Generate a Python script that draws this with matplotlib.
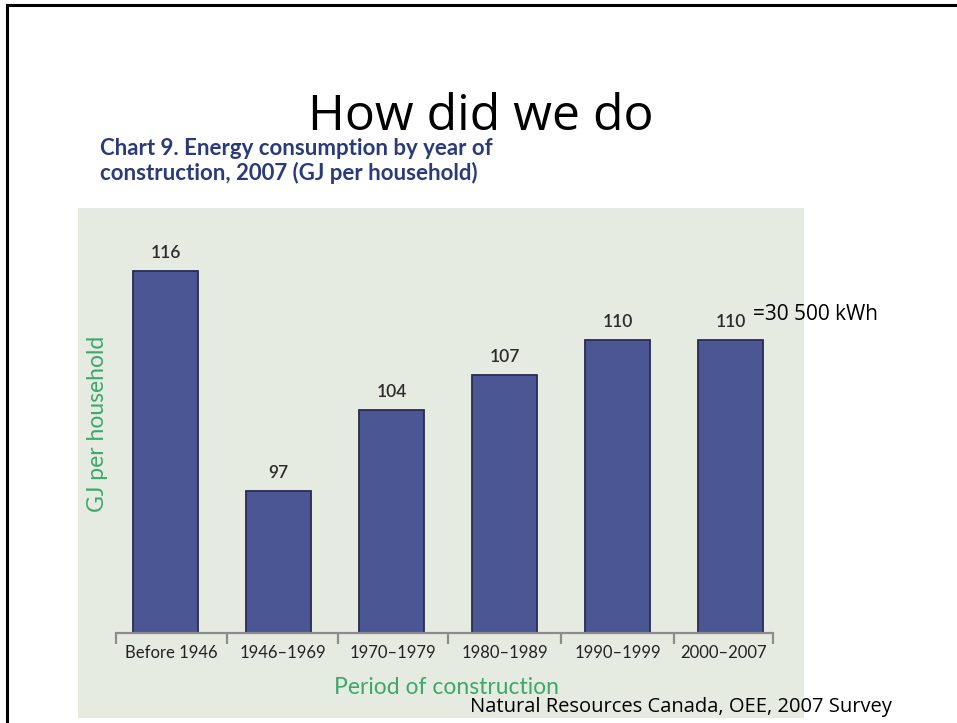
import matplotlib
matplotlib.use("Agg")
import matplotlib.pyplot as plt
from matplotlib.patches import Rectangle
from matplotlib.lines import Line2D

# energy use per household by construction period (GJ)
periods = ["Before 1946", "1946\u20131969", "1970\u20131979", "1980\u20131989", "1990\u20131999", "2000\u20132007"]
gj_per_household = [116, 97, 104, 107, 110, 110]

W, H = 957, 723
BAR_FILL = "#4b5694"
BAR_EDGE = "#272c52"
GREEN = "#3da86a"
NAVY = "#2a3b7c"
CHART_BG = "#e6ebe2"
CHART_FONT = "Lato"
SLIDE_FONT = "Open Sans"


def fx(px):
    return px / W


def fy(py):
    return 1 - py / H


fig = plt.figure(figsize=(W / 100, H / 100), dpi=100)
fig.patch.set_facecolor("white")

# slide frame (top and left edges only)
fig.add_artist(Line2D([fx(7), 1], [fy(5), fy(5)], color="black", lw=2.2))
fig.add_artist(Line2D([fx(7), fx(7)], [fy(5), 0], color="black", lw=2.2))

# pasted chart background
fig.add_artist(Rectangle((fx(78), fy(718)), fx(804) - fx(78), fy(208) - fy(718),
                         transform=fig.transFigure, facecolor=CHART_BG, edgecolor="none", zorder=0))

ax = fig.add_axes([fx(109), fy(633), fx(787) - fx(109), fy(207) - fy(633)])
ax.set_facecolor("none")

x = list(range(len(periods)))
bars = ax.bar(x, gj_per_household, width=0.575, color=BAR_FILL, edgecolor=BAR_EDGE, linewidth=1.3, zorder=2)
for xi, v in zip(x, gj_per_household):
    ax.annotate(str(v), (xi, v), xytext=(0, 13), textcoords="offset points",
                ha="center", va="center", fontsize=12.5, fontweight="semibold",
                family=CHART_FONT, color="#2b2b2b")

ax.set_xlim(-0.5, 5.5)
ax.set_ylim(84.8, 121.5)

# group separators along the base line
bounds = [-0.44, 0.54, 1.53, 2.5, 3.5, 4.5, 5.38]
mids = [(a + b) / 2 for a, b in zip(bounds[:-1], bounds[1:])]
for s in ["top", "right", "left"]:
    ax.spines[s].set_visible(False)
ax.spines["bottom"].set_color("#8c8c8c")
ax.spines["bottom"].set_linewidth(1.6)
ax.spines["bottom"].set_bounds(bounds[0], bounds[-1])
ax.set_yticks([])
ax.set_xticks(mids)
ax.set_xticklabels(periods, family=CHART_FONT, fontsize=12, color="#222222")
ax.set_xticks(bounds, minor=True)
ax.tick_params(axis="x", which="major", length=0, pad=9)
ax.tick_params(axis="x", which="minor", length=8, width=1.6, color="#8c8c8c", direction="out")

fig.text(fx(98), fy(424), "GJ per household", rotation=90, ha="center", va="center",
         family=CHART_FONT, fontsize=16.5, color=GREEN)
fig.text(fx(447), fy(687), "Period of construction", ha="center", va="center",
         family=CHART_FONT, fontsize=16.5, color=GREEN)

fig.text(fx(100), fy(161), "Chart 9. Energy consumption by year of\nconstruction, 2007 (GJ per household)",
         ha="left", va="center", family=CHART_FONT, fontsize=16, fontweight="bold",
         color=NAVY, linespacing=1.2)

# slide text
fig.text(fx(481), fy(117), "How did we do", ha="center", va="center",
         family=SLIDE_FONT, fontsize=36, color="black")
fig.text(fx(753), fy(315), "=30 500 kWh", ha="left", va="center",
         family=SLIDE_FONT, fontsize=15, color="black")
fig.text(fx(470), fy(707), "Natural Resources Canada, OEE, 2007 Survey", ha="left", va="center",
         family=SLIDE_FONT, fontsize=14.5, color="black")

fig.savefig("out.png", dpi=100)
